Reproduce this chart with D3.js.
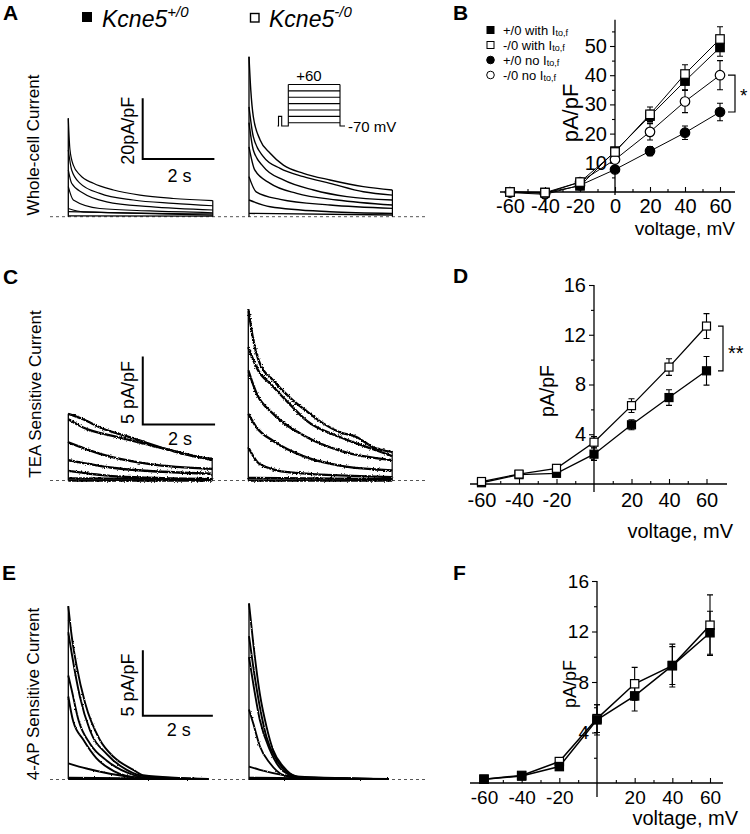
<!DOCTYPE html>
<html><head><meta charset="utf-8">
<script src="https://cdn.jsdelivr.net/npm/d3@7"></script>
<style>
body{margin:0;background:#fff;}
svg text{font-family:"Liberation Sans",Arial,sans-serif;fill:#000;}
</style></head><body>
<svg id="fig" width="750" height="834"></svg>
<script>
// ---------------- DATA ----------------
const voltages = [-60,-40,-20,0,20,40,60];
const xTickLabelsB = [-60,-40,-20,0,20,40,60];
const xTickLabelsDF = [-60,-40,-20,20,40,60];
const yTicksB = [10,20,30,40,50];
const yTicksDF = [4,8,12,16];

// Panel B (pA/pF)
const bWtWith = [0,-0.2,2.1,14.0,26.0,38.0,49.5];
const bWtWithErr = [0.3,0.3,0.5,1.0,2.0,3.0,3.0];
const bKoWith = [0,-0.2,3.4,13.7,26.6,40.4,52.4];
const bKoWithErr = [0.3,0.3,0.8,1.2,2.5,3.2,4.2];
const bWtNo = [-0.2,-0.8,2.3,7.7,14.0,20.3,27.4];
const bWtNoErr = [0.3,0.3,0.5,0.8,1.6,2.3,3.0];
const bKoNo = [0,-0.5,3.4,11.1,20.6,31.0,40.0];
const bKoNoErr = [0.3,0.3,0.8,1.0,2.8,3.8,5.0];
const legendB = ["+/0 with I","-/0 with I","+/0 no I","-/0 no I"];

// Panel D (TEA sensitive)
const dKo = [0.2,0.8,1.26,3.36,6.3,9.4,12.7];
const dKoErr = [0.2,0.2,0.3,0.45,0.55,0.67,1.0];
const dWt = [0.1,0.75,0.86,2.4,4.76,6.95,9.1];
const dWtErr = [0.2,0.2,0.2,0.5,0.4,0.63,1.15];

// Panel F (4-AP sensitive)
const fKo = [0.3,0.6,1.7,5.1,7.86,9.3,12.5];
const fKoErr = [0.1,0.1,0.3,1.1,1.3,1.5,2.4];
const fWt = [0.3,0.55,1.3,5.0,6.9,9.3,11.9];
const fWtErr = [0.1,0.1,0.3,1.2,1.2,1.7,1.7];

// Current traces: [time s, pA/pF]
const aWt = [
 [[0,32.4],[0.047,22],[0.14,17],[0.33,13.7],[0.7,11],[1.26,8.8],[2.0,7.1],[2.93,6.0],[4.03,5.3]],
 [[0,22],[0.093,15.4],[0.33,11],[0.88,7.7],[1.81,5.5],[2.93,4.4],[4.03,3.6]],
 [[0,15.4],[0.093,11],[0.42,7.7],[1.07,4.9],[2.28,3.3],[4.03,2.2]],
 [[0,9.9],[0.14,5.5],[0.88,2.7],[2.28,1.9],[4.03,1.3]],
 [[0,2.7],[0.42,1.6],[4.03,0.9]],
 [[0,1.65],[4.03,0.55]],
 [[0,0.3],[4.03,0.2]]
];
const aKo = [
 [[0,52.7],[0.05,41.7],[0.12,33],[0.31,25.3],[0.59,20.9],[0.96,17],[1.52,14.3],[2.26,12.1],[3.19,9.9],[4.0,8.8]],
 [[0,36.2],[0.12,26.4],[0.4,19.8],[0.87,15.9],[1.52,13.2],[2.26,11],[3.19,8.2],[4.0,7.1]],
 [[0,31],[0.12,22],[0.4,16.5],[0.96,12.1],[1.8,8.8],[2.73,6.6],[4.0,5.5]],
 [[0,23],[0.16,15.4],[0.59,11],[1.33,7.7],[2.45,5.5],[4.0,3.85]],
 [[0,13.2],[0.2,8.2],[0.87,5.7],[2.26,3.85],[4.0,2.75]],
 [[0,5.5],[0.59,3.3],[2.26,1.65],[4.0,1.1]],
 [[0,1.1],[4.0,0.55]]
];
const cWt = [
 [[0,4.9],[0.41,4.5],[0.88,3.9],[1.8,3.1],[2.72,2.3],[3.64,1.7],[3.98,1.6]],
 [[0,4.5],[0.41,3.9],[1.34,3.2],[2.26,2.6],[3.18,2.0],[3.98,1.5]],
 [[0,2.8],[0.88,1.96],[2.26,1.2],[3.98,0.86]],
 [[0,1.5],[1.34,0.9],[3.98,0.5]],
 [[0,0.7],[1.34,0.3],[3.98,0.1]],
 [[0,0.15],[3.98,0.1]],
 [[0,0],[3.98,0]]
];
const cKo = [
 [[0,12.6],[0.14,10.3],[0.32,8.6],[0.69,7.35],[1.15,6.1],[1.61,5.1],[2.07,4.2],[2.53,3.55],[2.99,3.2],[3.45,2.45],[3.98,2.1]],
 [[0,9.8],[0.23,8.3],[0.69,6.9],[1.15,5.6],[1.61,4.4],[2.53,3.2],[3.45,2.3],[3.98,1.8]],
 [[0,8.1],[0.23,6.4],[0.69,4.9],[1.61,3.2],[2.53,2.2],[3.98,1.5]],
 [[0,4.9],[0.23,3.9],[0.69,2.9],[1.61,1.7],[2.53,1.1],[3.98,0.75]],
 [[0,2.45],[0.32,1.2],[1.15,0.6],[3.98,0.25]],
 [[0,0.2],[3.98,0.1]],
 [[0,0],[3.98,0]]
];
const eWt = [
 [[0,13.2],[0.097,10.9],[0.24,8.6],[0.48,5.8],[0.9,3.0],[1.29,1.7],[1.86,0.7],[2.14,0.3],[4.0,0]],
 [[0,11.2],[0.097,9.6],[0.33,6.3],[0.62,3.7],[1.1,1.9],[1.67,0.7],[2.2,0.2],[4.0,0]],
 [[0,7.9],[0.097,6.8],[0.29,4.5],[0.62,2.7],[1.1,1.4],[1.67,0.5],[2.2,0.1],[4.0,0]],
 [[0,6.3],[0.14,4.4],[0.43,3.0],[0.8,1.6],[1.3,0.6],[2.0,0.1],[4.0,0]],
 [[0,1.2],[0.52,0.8],[1.19,0.4],[2.05,0.1],[4.0,0]],
 [[0,0.1],[4.0,0]],
 [[0,0],[4.0,0]]
];
const eKo = [
 [[0,13.4],[0.12,10.4],[0.31,6.5],[0.5,4.0],[0.69,2.2],[0.98,0.94],[1.36,0.2],[4.0,0]],
 [[0,10.9],[0.12,8.6],[0.31,5.5],[0.5,3.2],[0.79,1.45],[1.17,0.4],[1.6,0.1],[4.0,0]],
 [[0,9.3],[0.12,7.3],[0.31,4.5],[0.6,2.2],[0.98,0.6],[1.5,0.1],[4.0,0]],
 [[0,5.3],[0.12,4.25],[0.31,2.5],[0.6,1.2],[0.98,0.3],[1.5,0.05],[4.0,0]],
 [[0,0.94],[0.31,0.7],[0.98,0.3],[1.5,0.1],[4.0,0]],
 [[0,0.1],[4.0,0]],
 [[0,0],[4.0,0]]
];
// voltage protocol (mV)
const protoSteps = [60,40,20,0,-20,-40,-60];
const protoHold = -70;
const protoPre = -40;

// ---------------- DRAWING ----------------
const svg = d3.select('#fig');
svg.append('rect').attr('width',750).attr('height',834).attr('fill','#fff');
// recording-noise texture (rendering effect only)
const defs = svg.append('defs');
function noiseFilter(id, freq, scale, seed){
  const f = defs.append('filter').attr('id',id).attr('filterUnits','userSpaceOnUse')
    .attr('x',0).attr('y',0).attr('width',750).attr('height',834);
  f.append('feTurbulence').attr('type','fractalNoise').attr('baseFrequency',freq).attr('numOctaves',1).attr('seed',seed).attr('result','t');
  f.append('feDisplacementMap').attr('in','SourceGraphic').attr('in2','t').attr('scale',scale)
    .attr('xChannelSelector','R').attr('yChannelSelector','G');
}
noiseFilter('noiseC', 0.7, 3.2, 4);
noiseFilter('noiseE', 0.7, 2.2, 7);

function txt(x,y,s,size,opts={}){
  const t = svg.append('text').attr('x',x).attr('y',y).text(s).style('font-size',size+'px');
  if(opts.anchor) t.attr('text-anchor',opts.anchor);
  if(opts.bold) t.style('font-weight','bold');
  if(opts.italic) t.style('font-style','italic');
  if(opts.rot) t.attr('transform',`rotate(-90,${x},${y})`);
  return t;
}

// Panel letters
[['A',3,20],['B',453,20],['C',3,284],['D',453,283],['E',2,580],['F',453,580]].forEach(d=>txt(d[1],d[2],d[0],21,{bold:true}));

// header genotype legend
svg.append('rect').attr('x',82).attr('y',12).attr('width',10).attr('height',10).attr('fill','#000');
let h1 = txt(102,27,'Kcne5',23,{italic:true});
h1.append('tspan').attr('dy',-10).style('font-size','15px').text('+/0');
svg.append('rect').attr('x',250.5).attr('y',13.5).attr('width',8.5).attr('height',8.5).attr('fill','#fff').attr('stroke','#000').attr('stroke-width',1.4);
let h2 = txt(269,27,'Kcne5',23,{italic:true});
h2.append('tspan').attr('dy',-10).style('font-size','15px').text('-/0');

// row labels
txt(39,145,'Whole-cell Current',17,{anchor:'middle',rot:true});
txt(41,394,'TEA Sensitive Current',17,{anchor:'middle',rot:true});
txt(39,694,'4-AP Sensitive Current',17,{anchor:'middle',rot:true});

function tracePanel(cfg){
  const g = svg.append('g');
  if(cfg.filter) g.attr('filter',`url(#${cfg.filter})`);
  const x = d3.scaleLinear().domain([0,1]).range([cfg.x0, cfg.x0 + cfg.pps]);
  const y = d3.scaleLinear().domain([0,1]).range([cfg.base, cfg.base - cfg.ppu]);
  const line = d3.line().x(d=>x(d[0])).y(d=>y(d[1])).curve(d3.curveMonotoneX);
  const peak = d3.max(cfg.data, tr=>tr[0][1]);
  svg.append('line').attr('x1',x(0)).attr('x2',x(0)).attr('y1',y(0)).attr('y2',y(peak))
   .attr('stroke','#000').attr('stroke-width',cfg.vsw||1.3);
  if(cfg.endLine){
    const tEnd = d3.max(cfg.data, tr=>tr[tr.length-1][0]);
    const endMax = d3.max(cfg.data, tr=>tr[tr.length-1][1]);
    svg.append('line').attr('x1',x(tEnd)).attr('x2',x(tEnd)).attr('y1',y(0)).attr('y2',y(endMax))
     .attr('stroke','#000').attr('stroke-width',1.2);
  }
  cfg.data.forEach(tr=>{
    g.append('path').attr('d',line(tr)).attr('fill','none').attr('stroke','#000')
     .attr('stroke-width',cfg.sw).attr('stroke-linejoin','round');
  });
  return {x,y};
}
function dashed(y){
  svg.append('line').attr('x1',50).attr('x2',426).attr('y1',y).attr('y2',y)
    .attr('stroke','#555').attr('stroke-width',1).attr('stroke-dasharray','3,3');
}
function scaleBar(sc, t0, i0, dt, di, vLabel, vLabelX, hLabelDy){
  const xa = sc.x(t0), xb = sc.x(t0+dt), ya = sc.y(i0), yb = sc.y(i0+di);
  svg.append('path').attr('d',`M${xa},${yb}V${ya}H${xb}`).attr('fill','none').attr('stroke','#000').attr('stroke-width',2);
  txt((xa+xb)/2+1, ya+hLabelDy, dt+' s', 18, {anchor:'middle'});
  txt(vLabelX, (ya+yb)/2+2, vLabel, 18, {anchor:'middle', rot:true});
}

// Row A
dashed(216.7);
const sA1 = tracePanel({x0:68.3, base:216.7, pps:35.85, ppu:3.035, data:aWt, sw:1.2, endLine:true});
tracePanel({x0:249, base:216.7, pps:35.85, ppu:3.035, data:aKo, sw:1.4, endLine:true});
scaleBar(sA1, 2.075, 19.0, 2, 20, '20pA/pF', 134, 23);
// protocol inset
(function(){
  const vy = d3.scaleLinear().domain([protoHold, 60]).range([126, 84.5]);
  const g = svg.append('g').attr('fill','none').attr('stroke','#000').attr('stroke-width',1.1);
  const xs = {a:277.5, p0:278.5, p1:281.7, s0:288.3, s1:340, e:345};
  g.append('path').attr('d',`M${xs.a},${vy(protoHold)}H${xs.p0}V${vy(protoPre)}H${xs.p1}V${vy(protoHold)}H${xs.s0}V${vy(60)}M${xs.s1},${vy(60)}V${vy(protoHold)}H${xs.e}`);
  protoSteps.forEach(v=>g.append('line').attr('x1',xs.s0).attr('x2',xs.s1).attr('y1',vy(v)).attr('y2',vy(v)));
  txt(309,81,'+60',15,{anchor:'middle'});
  txt(348,132,'-70 mV',15);
})();

// Row C
dashed(480.5);
const sC1 = tracePanel({x0:68.3, base:480.5, pps:36.15, ppu:13.6, data:cWt, sw:2.3, endLine:true, filter:'noiseC'});
tracePanel({x0:248.3, base:480.5, pps:36.15, ppu:13.6, data:cKo, sw:2.3, endLine:true, filter:'noiseC'});
scaleBar(sC1, 2.06, 4.12, 2, 5, '5 pA/pF', 134, 21);

// Row E
dashed(779.5);
const sE1 = tracePanel({x0:68.3, base:779, pps:35, ppu:13.1, data:eWt, sw:1.9, filter:'noiseE'});
tracePanel({x0:249, base:779, pps:35, ppu:13.1, data:eKo, sw:1.9, filter:'noiseE'});
scaleBar(sE1, 2.13, 4.83, 2, 5, '5 pA/pF', 134, 20);

// ---------- IV panels ----------
function ivPanel(cfg){
  const g = svg.append('g');
  const x = d3.scaleLinear().domain([-60,60]).range(cfg.xr);
  const y = d3.scaleLinear().domain([0,cfg.yRef]).range(cfg.yr);
  const fs = cfg.fs;
  g.append('line').attr('x1',cfg.xExt[0]).attr('x2',cfg.xExt[1]).attr('y1',y(0)).attr('y2',y(0)).attr('stroke','#000').attr('stroke-width',1.3);
  g.append('line').attr('x1',x(0)).attr('x2',x(0)).attr('y1',y(cfg.yExt[0])).attr('y2',y(cfg.yExt[1])).attr('stroke','#000').attr('stroke-width',1.3);
  const xa = g.append('g').attr('transform',`translate(0,${y(0)})`)
    .call(d3.axisBottom(x).tickValues(cfg.xTicks).tickSizeInner(-5).tickSizeOuter(0).tickPadding(cfg.xPad).tickFormat(d=>String(d)));
  xa.select('.domain').remove();
  xa.selectAll('text').style('font-size',fs+'px').style('font-family','"Liberation Sans",Arial,sans-serif');
  const xm = g.append('g').attr('transform',`translate(0,${y(0)})`)
    .call(d3.axisBottom(x).tickValues([-50,-30,-10,10,30,50]).tickSizeInner(-3).tickSizeOuter(0).tickFormat(''));
  xm.select('.domain').remove();
  const ya = g.append('g').attr('transform',`translate(${x(0)},0)`)
    .call(d3.axisLeft(y).tickValues(cfg.yTicks).tickSizeInner(5).tickSizeOuter(0).tickPadding(3).tickFormat(d=>String(d)));
  ya.select('.domain').remove();
  ya.selectAll('text').style('font-size',fs+'px').style('font-family','"Liberation Sans",Arial,sans-serif');
  const ym = g.append('g').attr('transform',`translate(${x(0)},0)`)
    .call(d3.axisLeft(y).tickValues(cfg.yMinor).tickSizeInner(3).tickSizeOuter(0).tickFormat(''));
  ym.select('.domain').remove();
  g.selectAll('.tick line').attr('stroke-width',1.1);
  txt(cfg.xt[0], cfg.xt[1], 'voltage, mV', cfg.tfs, {anchor:'end'});
  txt(cfg.yt[0], cfg.yt[1], 'pA/pF', cfg.yfs, {anchor:'middle', rot:true});
  const line = d3.line().x((d,i)=>x(voltages[i])).y(d=>y(d));
  cfg.series.forEach(s=>{
    g.append('path').attr('d',line(s.v)).attr('fill','none').attr('stroke','#000').attr('stroke-width',cfg.lw);
  });
  cfg.series.forEach(s=>{
    s.v.forEach((v,i)=>{
      const xx = x(voltages[i]), e = s.e[i];
      g.append('path').attr('d',`M${xx},${y(v+e)}V${y(v-e)}M${xx-3},${y(v+e)}H${xx+3}M${xx-3},${y(v-e)}H${xx+3}`)
        .attr('stroke','#000').attr('stroke-width',1.1).attr('fill','none');
    });
  });
  cfg.series.forEach(s=>{
    s.v.forEach((v,i)=>{
      const xx = x(voltages[i]), yy = y(v), r = cfg.ms/2;
      let m;
      if(s.shape==='sq') m = g.append('rect').attr('x',xx-r).attr('y',yy-r).attr('width',cfg.ms).attr('height',cfg.ms);
      else m = g.append('circle').attr('cx',xx).attr('cy',yy).attr('r',r+0.5);
      m.attr('fill', s.fill ? '#000':'#fff').attr('stroke','#000').attr('stroke-width',1.2);
    });
  });
  return {x,y};
}

// Panel B
const sB = ivPanel({
  xr:[510,720], yr:[192,46], yRef:50, xExt:[500,735], yExt:[-1,59],
  xTicks:xTickLabelsB, yTicks:yTicksB, yMinor:[5,15,25,35,45,55], xPad:7,
  fs:20, tfs:19, yfs:22, xt:[735,235], yt:[578,113], lw:1, ms:8.5,
  series:[
    {v:bWtNo, e:bWtNoErr, shape:'c', fill:true},
    {v:bKoNo, e:bKoNoErr, shape:'c', fill:false},
    {v:bWtWith, e:bWtWithErr, shape:'sq', fill:true},
    {v:bKoWith, e:bKoWithErr, shape:'sq', fill:false}
  ]
});
(function(){
  const x1 = sB.x(60)+8, x2 = sB.x(60)+15;
  svg.append('path').attr('d',`M${x1},${sB.y(bKoNo[6])}H${x2}V${sB.y(bWtNo[6])}H${x1}`).attr('fill','none').attr('stroke','#000').attr('stroke-width',1.2);
  txt(740,102,'*',19);
})();
(function(){
  const shapes = [{s:'sq',f:true},{s:'sq',f:false},{s:'c',f:true},{s:'c',f:false}];
  legendB.forEach((lab,i)=>{
    const yy = 30 + i*15;
    if(shapes[i].s==='sq') svg.append('rect').attr('x',487).attr('y',yy-3.5).attr('width',7).attr('height',7)
        .attr('fill',shapes[i].f?'#000':'#fff').attr('stroke','#000').attr('stroke-width',1);
    else svg.append('circle').attr('cx',490.5).attr('cy',yy).attr('r',3.8)
        .attr('fill',shapes[i].f?'#000':'#fff').attr('stroke','#000').attr('stroke-width',1);
    const t = txt(503, yy+4.5, lab, 13);
    t.append('tspan').style('font-size','9px').attr('dy',1.5).text('to,f');
  });
})();

// Panel D
const sD = ivPanel({
  xr:[481.5,706.5], yr:[484,285], yRef:16, xExt:[470,727], yExt:[-0.65,16],
  xTicks:xTickLabelsDF, yTicks:yTicksDF, yMinor:[2,6,10,14], xPad:9,
  fs:20, tfs:20, yfs:19.5, xt:[733,538], yt:[554,391], lw:1.3, ms:8,
  series:[
    {v:dWt, e:dWtErr, shape:'sq', fill:true},
    {v:dKo, e:dKoErr, shape:'sq', fill:false}
  ]
});
(function(){
  const x1 = sD.x(60)+11.5, x2 = sD.x(60)+16.5;
  svg.append('path').attr('d',`M${x1},${sD.y(dKo[6])}H${x2}V${sD.y(dWt[6])}H${x1}`).attr('fill','none').attr('stroke','#000').attr('stroke-width',1.2);
  txt(728,360,'**',20);
})();

// Panel F
ivPanel({
  xr:[484,710], yr:[783,581], yRef:16, xExt:[470,723], yExt:[-1.1,16],
  xTicks:xTickLabelsDF, yTicks:yTicksDF, yMinor:[2,6,10,14], xPad:8,
  fs:19, tfs:20, yfs:18, xt:[738,825], yt:[576,684], lw:1.5, ms:8.3,
  series:[
    {v:fKo, e:fKoErr, shape:'sq', fill:false},
    {v:fWt, e:fWtErr, shape:'sq', fill:true}
  ]
});
</script>
</body></html>
